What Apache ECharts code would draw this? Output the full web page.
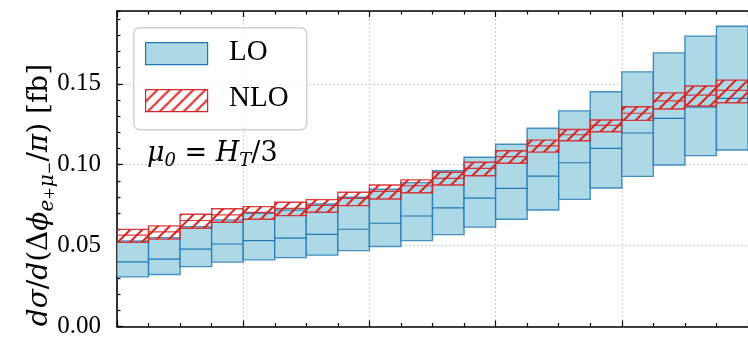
<!DOCTYPE html>
<html>
<head>
<meta charset="utf-8">
<script src="https://cdn.jsdelivr.net/npm/echarts@6/dist/echarts.min.js"></script>
<style>
  html, body { margin: 0; padding: 0; background: #fff; }
  #chart { width: 748px; height: 339px; }
</style>
</head>
<body>
<div id="chart"></div>
<script>
// bin edges in delta phi / pi
var binEdges = [0, 0.05, 0.10, 0.15, 0.20, 0.25, 0.30, 0.35, 0.40, 0.45, 0.50,
  0.55, 0.60, 0.65, 0.70, 0.75, 0.80, 0.85, 0.90, 0.95, 1.00];

// LO: central value and scale band
var loCentral = [0.0399, 0.0416, 0.0478, 0.0510, 0.0531, 0.0546, 0.0570, 0.0601, 0.0638, 0.0683,
  0.0733, 0.0794, 0.0854, 0.0930, 0.1012, 0.1101, 0.1196, 0.1286, 0.1355, 0.1410];
var loLow = [0.0307, 0.0321, 0.0370, 0.0398, 0.0412, 0.0426, 0.0441, 0.0469, 0.0494, 0.0531,
  0.0568, 0.0614, 0.0663, 0.0720, 0.0786, 0.0856, 0.0928, 0.0998, 0.1056, 0.1091];
var loHigh = [0.0529, 0.0549, 0.0617, 0.0659, 0.0700, 0.0720, 0.0757, 0.0799, 0.0848, 0.0889,
  0.0963, 0.1046, 0.1126, 0.1225, 0.1333, 0.1451, 0.1574, 0.1691, 0.1795, 0.1856];

// NLO: central value and scale band
var nloCentral = [0.0565, 0.0585, 0.0655, 0.0690, 0.0705, 0.0730, 0.0748, 0.0792, 0.0835, 0.0870,
  0.0916, 0.0977, 0.1050, 0.1117, 0.1185, 0.1243, 0.1318, 0.1395, 0.1430, 0.1460];
var nloLow = [0.0521, 0.0540, 0.0607, 0.0644, 0.0663, 0.0685, 0.0706, 0.0747, 0.0788, 0.0827,
  0.0875, 0.0932, 0.1009, 0.1078, 0.1148, 0.1204, 0.1274, 0.1344, 0.1363, 0.1383];
var nloHigh = [0.0600, 0.0622, 0.0694, 0.0728, 0.0741, 0.0768, 0.0784, 0.0830, 0.0875, 0.0906,
  0.0953, 0.1015, 0.1086, 0.1152, 0.1218, 0.1276, 0.1358, 0.1444, 0.1486, 0.1523];

var yTicks = [0, 0.05, 0.10, 0.15];

var BLUE = '#1f77b4';
var LIGHTBLUE = '#add8e6';
var RED = '#d62728';
var FONT = 'Liberation Serif';
var MATH = 'DejaVu Serif';

// hatch tile for NLO ("///")
function makeHatch() {
  var s = 12;
  var c = document.createElement('canvas');
  c.width = s; c.height = s;
  var ctx = c.getContext('2d');
  ctx.strokeStyle = RED;
  ctx.lineWidth = 2;
  ctx.beginPath();
  ctx.moveTo(-2, s + 2); ctx.lineTo(s + 2, -2);
  ctx.moveTo(-2, 2); ctx.lineTo(2, -2);
  ctx.moveTo(s - 2, s + 2); ctx.lineTo(s + 2, s - 2);
  ctx.stroke();
  return c;
}
var hatch = { image: makeHatch(), repeat: 'repeat' };

var loData = loCentral.map(function (v, i) {
  return [binEdges[i], binEdges[i + 1], loLow[i], loHigh[i], v];
});
var nloData = nloCentral.map(function (v, i) {
  return [binEdges[i], binEdges[i + 1], nloLow[i], nloHigh[i], v];
});

function bandItem(fill, stroke, lineStroke) {
  return function (params, api) {
    var pTop = api.coord([api.value(0), api.value(3)]);
    var pBot = api.coord([api.value(1), api.value(2)]);
    var pMid = api.coord([api.value(0), api.value(4)]);
    return {
      type: 'group',
      children: [{
        type: 'rect',
        shape: { x: pTop[0], y: pTop[1], width: pBot[0] - pTop[0], height: pBot[1] - pTop[1] },
        style: { fill: fill, stroke: stroke, lineWidth: 1.4 }
      }, {
        type: 'line',
        shape: { x1: pTop[0], y1: pMid[1], x2: pBot[0], y2: pMid[1] },
        style: { stroke: lineStroke, lineWidth: 1.2 }
      }]
    };
  };
}

var tickStyle = { color: '#000', width: 1.2 };
var gridLine = { show: true, lineStyle: { color: '#c8c8c8', type: [2, 2], width: 0.9 } };

var chart = echarts.init(document.getElementById('chart'), null, { renderer: 'canvas' });

var option = {
  backgroundColor: '#fff',
  animation: false,
  grid: { left: 117, top: 11, width: 639, height: 316 },
  xAxis: [{
    type: 'value', min: 0, max: 1, interval: 0.2, position: 'bottom',
    axisLine: { show: true, onZero: false, lineStyle: { color: '#000', width: 1.6 } },
    axisTick: { show: true, inside: true, length: 6, lineStyle: tickStyle },
    minorTick: { show: true, splitNumber: 4, length: 3.5, lineStyle: tickStyle },
    axisLabel: { show: false },
    splitLine: gridLine
  }, {
    type: 'value', min: 0, max: 1, interval: 0.2, position: 'top',
    axisLine: { show: true, onZero: false, lineStyle: { color: '#000', width: 1.6 } },
    axisTick: { show: true, inside: true, length: 6, lineStyle: tickStyle },
    minorTick: { show: true, splitNumber: 4, length: 3.5, lineStyle: tickStyle },
    axisLabel: { show: false },
    splitLine: { show: false }
  }],
  yAxis: [{
    type: 'value', min: 0, max: 0.195, interval: 0.05, position: 'left',
    axisLine: { show: true, onZero: false, lineStyle: { color: '#000', width: 1.6 } },
    axisTick: { show: true, inside: true, length: 6, lineStyle: tickStyle },
    axisLabel: {
      showMaxLabel: false, margin: 16, color: '#000',
      fontFamily: FONT, fontSize: 25,
      formatter: function (v) { return yTicks.indexOf(+v.toFixed(2)) >= 0 ? v.toFixed(2) : ''; }
    },
    splitLine: gridLine
  }, {
    type: 'value', min: 0, max: 0.195, interval: 0.01, position: 'left', offset: 0,
    axisLine: { show: false },
    axisTick: { show: true, inside: true, length: 3.5, lineStyle: tickStyle },
    axisLabel: { show: false },
    splitLine: { show: false }
  }],
  series: [{
    name: 'LO', type: 'custom', xAxisIndex: 0, yAxisIndex: 0,
    renderItem: bandItem(LIGHTBLUE, 'rgba(31,119,180,0.8)', BLUE),
    encode: { x: [0, 1], y: [2, 3, 4] },
    clip: true,
    data: loData
  }, {
    name: 'NLO', type: 'custom', xAxisIndex: 0, yAxisIndex: 0,
    renderItem: bandItem(hatch, 'rgba(214,39,40,0.9)', 'rgba(214,39,40,0.9)'),
    encode: { x: [0, 1], y: [2, 3, 4] },
    clip: true,
    data: nloData
  }],
  graphic: [
    // legend
    { type: 'rect', left: 133, top: 27, z: 100,
      shape: { width: 173, height: 102, r: 6 },
      style: { fill: 'rgba(255,255,255,0.8)', stroke: 'rgba(204,204,204,0.9)', lineWidth: 1.5 } },
    { type: 'rect', left: 145, top: 42, z: 101,
      shape: { width: 62, height: 22 },
      style: { fill: LIGHTBLUE, stroke: BLUE, lineWidth: 1.2 } },
    { type: 'rect', left: 145, top: 89, z: 101,
      shape: { width: 62, height: 22 },
      style: { fill: hatch, stroke: RED, lineWidth: 1.2 } },
    { type: 'text', left: 229, top: 38, z: 101,
      style: { text: 'LO', fill: '#000', font: '29px "' + FONT + '"' } },
    { type: 'text', left: 229, top: 84, z: 101,
      style: { text: 'NLO', fill: '#000', font: '29px "' + FONT + '"' } },
    // scale annotation
    { type: 'text', left: 147, top: 140, z: 101,
      style: {
        text: '{i|μ}{s|0}{r| = }{i|H}{s|T}{r|/3}',
        rich: {
          i: { fontFamily: MATH, fontStyle: 'italic', fontSize: 27, lineHeight: 34, fill: '#000' },
          r: { fontFamily: MATH, fontSize: 27, lineHeight: 34, fill: '#000' },
          s: { fontFamily: MATH, fontStyle: 'italic', fontSize: 18, lineHeight: 18, verticalAlign: 'bottom', fill: '#000' }
        }
      } },
    // y axis title
    { type: 'text', x: 40, y: 195, rotation: Math.PI / 2, z: 101,
      style: {
        text: '{i|dσ}{r|/}{i|d}{r|(Δ}{i|ϕ}{s|e}{p|+}{s|μ}{p|−}{r|/}{i|π}{r|) [fb]}',
        align: 'center', verticalAlign: 'middle',
        rich: {
          i: { fontFamily: MATH, fontStyle: 'italic', fontSize: 28, lineHeight: 36, fill: '#000' },
          r: { fontFamily: MATH, fontSize: 28, lineHeight: 36, fill: '#000' },
          s: { fontFamily: MATH, fontStyle: 'italic', fontSize: 20, lineHeight: 20, verticalAlign: 'bottom', fill: '#000' },
          p: { fontFamily: MATH, fontSize: 15, lineHeight: 30, verticalAlign: 'bottom', fill: '#000' }
        }
      } }
  ]
};

chart.setOption(option);
window.addEventListener('resize', function () { chart.resize(); });
</script>
</body>
</html>
